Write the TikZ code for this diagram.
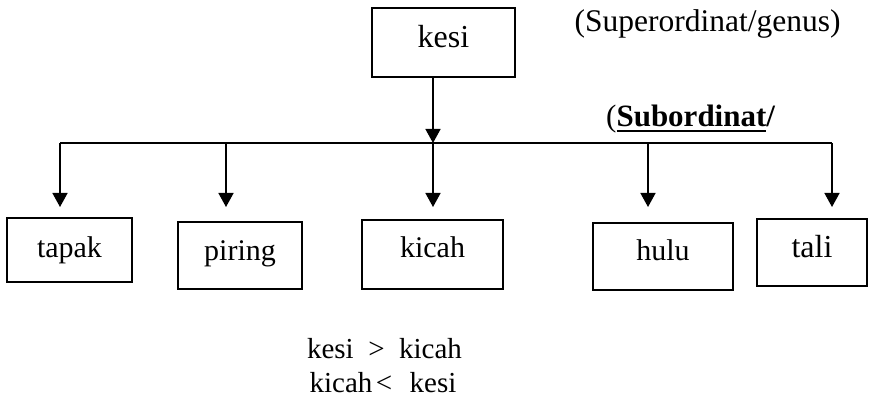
\documentclass[tikz,border=0pt]{standalone}
\usepackage{fontspec}
\setmainfont{Liberation Serif}
\usetikzlibrary{arrows.meta}
\newcommand{\thickul}[1]{\setbox0\hbox{#1}\rlap{\rule[-5pt]{\wd0}{2.4pt}}\box0}
\begin{document}
\begin{tikzpicture}[x=1pt,y=-1pt,
  box/.style={draw, line width=1.5pt, inner sep=0pt, anchor=base, font=\fontsize{30}{36}\selectfont},
  conn/.style={line width=1.5pt},
  arr/.style={conn, -{Triangle[width=15pt,length=14pt]}},
  lbl/.style={inner sep=0pt, anchor=base}]
\useasboundingbox (0,0) rectangle (870,398);
% boxes
\node[box, minimum width=143pt, text height=40pt, text depth=29pt, font=\fontsize{32}{38}\selectfont] (kesi) at (443.5,48) {kesi};
\node[box, minimum width=125pt, text height=39pt, text depth=25pt] (tapak) at (69.5,257) {tapak};
\node[box, minimum width=124pt, text height=38pt, text depth=29pt] (piring) at (240,260) {piring};
\node[box, minimum width=141pt, text height=37pt, text depth=32pt] (kicah) at (432.5,257) {kicah};
\node[box, minimum width=140pt, text height=37pt, text depth=30pt] (hulu) at (663,260) {hulu};
\node[box, minimum width=110pt, text height=38pt, text depth=29pt, font=\fontsize{32}{38}\selectfont] (tali) at (812,257) {tali};
% junctions and arrow ends
\coordinate (jL) at (60,143);
\coordinate (j2) at (226,143);
\coordinate (jc) at (433,143);
\coordinate (j4) at (648,143);
\coordinate (jR) at (832,143);
\coordinate (a1) at (60,207);
\coordinate (a2) at (226,207);
\coordinate (a3) at (433,207);
\coordinate (a4) at (648,207);
\coordinate (a5) at (832,207);
% connectors
\draw[conn] (jL) -- (jR);
\draw[arr] (kesi.south -| jc) -- (jc);
\draw[arr] (jL) -- (a1);
\draw[arr] (j2) -- (a2);
\draw[arr] (jc) -- (a3);
\draw[arr] (j4) -- (a4);
\draw[arr] (jR) -- (a5);
% labels
\node[lbl, font=\fontsize{31.5}{36}\selectfont] (super) at (707.5,32) {(Superordinat/genus)};
\node[lbl, anchor=base west, font=\fontsize{31}{36}\selectfont] (sub) at (606,127) {(\textbf{\thickul{Subordinat}/}};
\node[lbl, font=\fontsize{29}{34}\selectfont] (rel1) at (384.5,358) {kesi\ \ >\ \ kicah};
\node[lbl, font=\fontsize{29}{34}\selectfont] (rel2) at (383,392) {kicah\hspace{0.12em}<\hspace{0.6em}kesi};
\end{tikzpicture}
\end{document}
